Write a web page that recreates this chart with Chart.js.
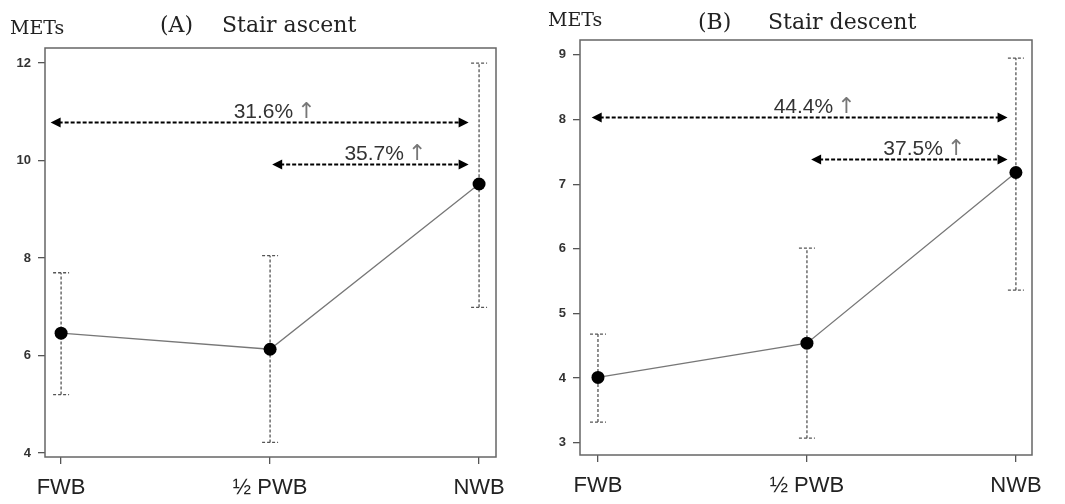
<!DOCTYPE html>
<html>
<head>
<meta charset="utf-8">
<script src="https://cdn.jsdelivr.net/npm/chart.js@4"></script>
<style>
html,body{margin:0;padding:0;background:#fff;}
.panel{position:absolute;top:0;height:504px;}
</style>
</head>
<body>
<div class="panel" style="left:0;width:530px"><canvas id="chartA"></canvas></div>
<div class="panel" style="left:530px;width:535px"><canvas id="chartB"></canvas></div>
<script>
var groups = ['FWB', '½ PWB', 'NWB'];

// (A) stair ascent
var ascentMean = [6.46, 6.13, 9.52];
var ascentLow = [5.20, 4.22, 6.99];
var ascentHigh = [7.70, 8.05, 12.0];
var ascentTicks = [4, 6, 8, 10, 12];
var ascentArrowFrom = [-0.05, 1.01];
var ascentArrowTo = [1.95, 1.95];
var ascentArrowAt = [10.80, 9.93];
var ascentArrowText = ['31.6%', '35.7%'];

// (B) stair descent
var descentMean = [4.01, 4.54, 7.18];
var descentLow = [3.32, 3.07, 5.36];
var descentHigh = [4.68, 6.01, 8.95];
var descentTicks = [3, 4, 5, 6, 7, 8, 9];
var descentArrowFrom = [-0.03, 1.02];
var descentArrowTo = [1.96, 1.96];
var descentArrowAt = [8.04, 7.39];
var descentArrowText = ['44.4%', '37.5%'];

Chart.defaults.animation = false;

function arrowHead(ctx, x, y, dir) {
    ctx.beginPath();
    ctx.moveTo(x, y);
    ctx.lineTo(x - dir * 10, y - 5);
    ctx.lineTo(x - dir * 10, y + 5);
    ctx.closePath();
    ctx.fill();
}

function makePanel(id, p) {
    var extras = {
        id: 'extras',
        beforeDatasetsDraw: function (chart) {
            var ctx = chart.ctx, xs = chart.scales.x, ys = chart.scales.y, a = chart.chartArea;
            ctx.save();
            // frame
            ctx.strokeStyle = '#666';
            ctx.lineWidth = 1.5;
            ctx.strokeRect(a.left, a.top, a.right - a.left, a.bottom - a.top);
            // error bars
            ctx.strokeStyle = '#555';
            ctx.lineWidth = 1.3;
            ctx.setLineDash([3, 2]);
            for (var i = 0; i < p.mean.length; i++) {
                var x = xs.getPixelForValue(i);
                var yl = ys.getPixelForValue(p.low[i]);
                var yh = ys.getPixelForValue(p.high[i]);
                ctx.beginPath();
                ctx.moveTo(x, yl); ctx.lineTo(x, yh);
                ctx.moveTo(x - 8, yl); ctx.lineTo(x + 8, yl);
                ctx.moveTo(x - 8, yh); ctx.lineTo(x + 8, yh);
                ctx.stroke();
            }
            ctx.restore();
        },
        afterDraw: function (chart) {
            var ctx = chart.ctx, xs = chart.scales.x, ys = chart.scales.y;
            ctx.save();
            // percent arrows
            for (var i = 0; i < p.arrowAt.length; i++) {
                var x1 = xs.getPixelForValue(p.arrowFrom[i]);
                var x2 = xs.getPixelForValue(p.arrowTo[i]);
                var y = Math.round(ys.getPixelForValue(p.arrowAt[i])) + 0.5;
                ctx.strokeStyle = '#000';
                ctx.fillStyle = '#000';
                ctx.lineWidth = 2.2;
                ctx.setLineDash([4, 2]);
                ctx.beginPath();
                ctx.moveTo(x1 + 8, y); ctx.lineTo(x2 - 8, y);
                ctx.stroke();
                ctx.setLineDash([]);
                arrowHead(ctx, x1, y, -1);
                arrowHead(ctx, x2, y, 1);

                // label: percentage plus a thin up arrow
                ctx.textBaseline = 'alphabetic';
                ctx.textAlign = 'left';
                ctx.font = '21px "Liberation Sans", Arial, sans-serif';
                var w1 = ctx.measureText(p.arrowText[i]).width;
                ctx.font = '22px "DejaVu Sans", sans-serif';
                var w2 = ctx.measureText('↑').width;
                var cx = (x1 + x2) / 2 + 15;
                var left = cx - (w1 + 4 + w2) / 2;
                ctx.fillStyle = '#333';
                ctx.font = '21px "Liberation Sans", Arial, sans-serif';
                ctx.fillText(p.arrowText[i], left, y - 5);
                ctx.fillStyle = '#777';
                ctx.font = '22px "DejaVu Sans", sans-serif';
                ctx.fillText('↑', left + w1 + 4, y - 5);
            }
            // headings
            ctx.fillStyle = '#222';
            ctx.textAlign = 'left';
            ctx.font = '19px "DejaVu Serif", serif';
            ctx.fillText('METs', p.unitX, p.unitY);
            ctx.font = '22px "DejaVu Serif", serif';
            ctx.fillText(p.tag, p.tagX, p.titleY);
            ctx.fillText(p.title, p.titleX, p.titleY);
            ctx.restore();
        }
    };

    return new Chart(document.getElementById(id), {
        type: 'line',
        data: {
            datasets: [{
                data: p.mean.map(function (v, i) { return { x: i, y: v }; }),
                borderColor: '#777',
                borderWidth: 1.3,
                pointRadius: 6.5,
                pointBackgroundColor: '#000',
                pointBorderColor: '#000',
                pointBorderWidth: 0
            }]
        },
        options: {
            responsive: true,
            maintainAspectRatio: false,
            layout: { padding: { left: 0, top: p.top, right: p.right, bottom: 0 } },
            plugins: { legend: { display: false }, tooltip: { enabled: false } },
            scales: {
                x: {
                    type: 'linear',
                    min: p.xMin,
                    max: p.xMax,
                    afterBuildTicks: function (s) { s.ticks = groups.map(function (g, i) { return { value: i }; }); },
                    afterFit: function (s) { s.height = p.xHeight; },
                    grid: { drawOnChartArea: false, tickLength: 7, color: '#555', lineWidth: 1.3 },
                    border: { display: false },
                    ticks: {
                        padding: 11,
                        color: '#222',
                        font: { family: '"Liberation Sans", Arial, sans-serif', size: 22 },
                        callback: function (v) { return groups[v]; },
                        maxRotation: 0
                    }
                },
                y: {
                    min: p.yMin,
                    max: p.yMax,
                    afterBuildTicks: function (s) { s.ticks = p.ticks.map(function (v) { return { value: v }; }); },
                    afterFit: function (s) { s.width = p.yWidth; },
                    grid: { drawOnChartArea: false, tickLength: 7, color: '#555', lineWidth: 1.3 },
                    border: { display: false },
                    ticks: {
                        padding: 7,
                        color: '#333',
                        font: { family: '"Liberation Sans", Arial, sans-serif', size: 13, weight: 'bold' }
                    }
                }
            }
        },
        plugins: [extras]
    });
}

makePanel('chartA', {
    mean: ascentMean, low: ascentLow, high: ascentHigh, ticks: ascentTicks,
    arrowFrom: ascentArrowFrom, arrowTo: ascentArrowTo, arrowAt: ascentArrowAt, arrowText: ascentArrowText,
    yMin: 3.92, yMax: 12.31, xMin: -0.077, xMax: 2.081,
    top: 48, right: 34, xHeight: 47, yWidth: 45,
    tag: '(A)', title: 'Stair ascent', tagX: 160, titleX: 222, titleY: 32, unitX: 10, unitY: 34
});

makePanel('chartB', {
    mean: descentMean, low: descentLow, high: descentHigh, ticks: descentTicks,
    arrowFrom: descentArrowFrom, arrowTo: descentArrowTo, arrowAt: descentArrowAt, arrowText: descentArrowText,
    yMin: 2.81, yMax: 9.23, xMin: -0.086, xMax: 2.077,
    top: 40, right: 33, xHeight: 49, yWidth: 50,
    tag: '(B)', title: 'Stair descent', tagX: 168, titleX: 238, titleY: 29, unitX: 18, unitY: 26
});
</script>
</body>
</html>
